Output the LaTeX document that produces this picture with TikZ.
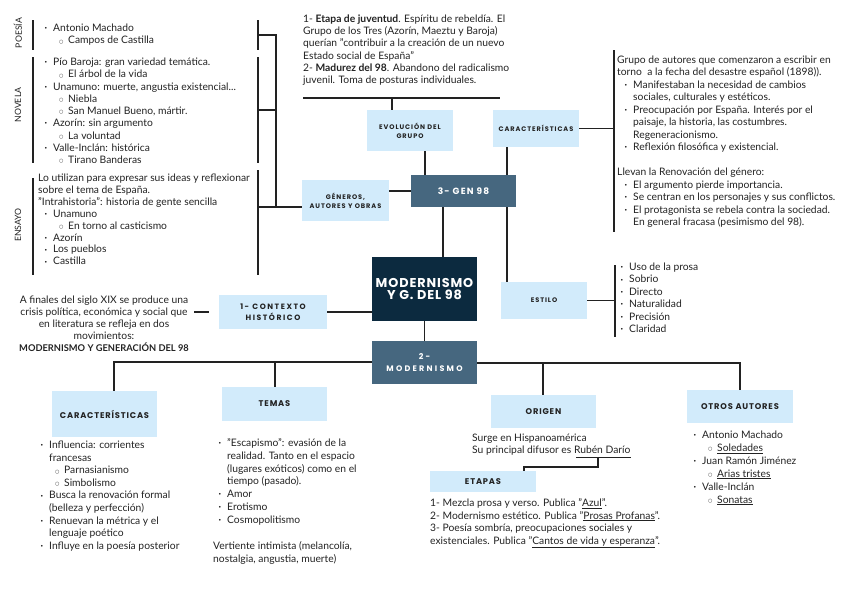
\documentclass[tikz,border=0pt]{standalone}
\usepackage{fontspec}
\setmainfont{Lato}
\newfontfamily\hfont[LetterSpace=14]{Poppins}
\newfontfamily\symfont{DejaVu Sans}
\usetikzlibrary{calc}
\definecolor{lb}{HTML}{D2EBFB}
\definecolor{slate}{HTML}{46677F}
\definecolor{navy}{HTML}{0C2A3F}
\definecolor{ink}{HTML}{222222}
\newcommand\Bu{\makebox[9pt][l]{\fontsize{6}{6}\selectfont\symfont\raisebox{0.8pt}{•}}}
\newcommand\Sb{\makebox[9pt][l]{\fontsize{5}{5}\selectfont\symfont\raisebox{0.6pt}{○}}}
\newcommand\Ind{\hspace*{15pt}}
\newcommand\Hang{\hspace*{9pt}}
\newcommand\Blk[1]{\begin{tabular}[t]{@{}l@{}}#1\end{tabular}}
\newcommand\CBlk[1]{\begin{tabular}[t]{@{}c@{}}#1\end{tabular}}
\tikzset{
  body/.style={inner sep=0pt, anchor=base west, yshift=-3.5pt, text=ink, font=\fontsize{10.3}{#1}\selectfont},
  body/.default=12.3,
  lbox/.style={fill=lb, inner sep=0pt, align=center, text=ink},
  hdrS/.style={font=\hfont\bfseries\fontsize{6.6}{9}\selectfont},
  hdrM/.style={font=\hfont\bfseries\fontsize{8.3}{10}\selectfont\addfontfeatures{LetterSpace=10}},
  conn/.style={draw=ink, line width=1.5pt},
  side/.style={font=\fontsize{8.7}{8.7}\selectfont, text=ink, rotate=90, inner sep=0pt},
}
\begin{document}
\begin{tikzpicture}[x=1pt,y=-1pt]
\useasboundingbox (0,0) rectangle (848,600);

% ---------- boxes ----------
\node[lbox, hdrS, minimum width=86pt, minimum height=41pt] (evo) at (410,130.5) {EVOLUCIÓN DEL\\GRUPO};
\node[lbox, hdrS, minimum width=86pt, minimum height=37pt] (car98) at (536,128.5) {CARACTERÍSTICAS};
\node[lbox, hdrS, minimum width=87pt, minimum height=41pt] (gen) at (345.5,200.5) {GÉNEROS,\\AUTORES Y OBRAS};
\node[fill=slate, text=white, inner sep=0pt, minimum width=105pt, minimum height=32pt,
      font=\hfont\bfseries\fontsize{9}{9}\selectfont\addfontfeatures{LetterSpace=13}] (gen98) at (463.5,191) {3- GEN 98};
\node[fill=navy, text=white, inner sep=0pt, minimum width=105pt, minimum height=64pt, align=center,
      font=\hfont\bfseries\fontsize{12.8}{12.5}\selectfont\addfontfeatures{LetterSpace=7}] (title) at (424.5,289) {MODERNISMO\\Y G. DEL 98};
\node[lbox, hdrS, minimum width=86pt, minimum height=37pt] (estilo) at (544,300.5) {ESTILO};
\node[lbox, font=\hfont\bfseries\fontsize{7.7}{10.5}\selectfont\addfontfeatures{LetterSpace=20}, minimum width=108pt, minimum height=34pt] (ctx) at (273,312) {1- CONTEXTO\\HISTÓRICO};
\node[fill=slate, text=white, inner sep=0pt, minimum width=105pt, minimum height=43pt, align=center,
      font=\hfont\bfseries\fontsize{8}{12}\selectfont\addfontfeatures{LetterSpace=28}] (mod) at (424.5,362.5) {2-\\MODERNISMO};
\node[lbox, hdrM, minimum width=105pt, minimum height=46pt] (carM) at (104.5,414) {CARACTERÍSTICAS};
\node[lbox, hdrM, minimum width=105pt, minimum height=34pt] (temas) at (274.5,404) {TEMAS};
\node[lbox, hdrM, minimum width=105pt, minimum height=33pt] (origen) at (543.5,411.5) {ORIGEN};
\node[lbox, hdrM, minimum width=106pt, minimum height=33pt] (otros) at (740,406.5) {OTROS AUTORES};
\node[lbox, hdrM, minimum width=106pt, minimum height=21pt] (etapas) at (483,481.5) {ETAPAS};

% ---------- side labels ----------
\node[side] (lpoesia) at (18,33) {POESÍA};
\node[side] (lnovela) at (18,105) {NOVELA};
\node[side] (lensayo) at (18,225) {ENSAYO};

% ---------- text blocks ----------
\node[body=12.2] (tpoesia) at (44,28) {\Blk{\Bu Antonio Machado\\ \Ind\Sb Campos de Castilla}};
\node[body=12.25] (tnovela) at (44,62) {\Blk{\Bu Pío Baroja: gran variedad temática.\\
 \Ind\Sb El árbol de la vida\\
 \Bu Unamuno: muerte, angustia existencial...\\
 \Ind\Sb Niebla\\
 \Ind\Sb San Manuel Bueno, mártir.\\
 \Bu Azorín: sin argumento\\
 \Ind\Sb La voluntad\\
 \Bu Valle-Inclán: histórica\\
 \Ind\Sb Tirano Banderas}};
\node[body=11.9] (tensayo) at (38,178) {\Blk{Lo utilizan para expresar sus ideas y reflexionar\\
 sobre el tema de España.\\
 "Intrahistoria": historia de gente sencilla\\
 \hspace*{6pt}\Bu Unamuno\\
 \hspace*{21pt}\Sb En torno al casticismo\\
 \hspace*{6pt}\Bu Azorín\\
 \hspace*{6pt}\Bu Los pueblos\\
 \hspace*{6pt}\Bu Castilla}};
\node[body=12.2] (tevo) at (303,19) {\Blk{1- \textbf{Etapa de juventud}. Espíritu de rebeldía. El\\
 Grupo de los Tres (Azorín, Maeztu y Baroja)\\
 querían "contribuir a la creación de un nuevo\\
 Estado social de España"\\
 2- \textbf{Madurez del 98}. Abandono del radicalismo\\
 juvenil. Toma de posturas individuales.}};
\node[body=12.46] (tcar98) at (617,60) {\Blk{Grupo de autores que comenzaron a escribir en\\
 torno \ a la fecha del desastre español (1898)).\\
 \hspace*{7pt}\Bu Manifestaban la necesidad de cambios\\
 \hspace*{16pt}sociales, culturales y estéticos.\\
 \hspace*{7pt}\Bu Preocupación por España. Interés por el\\
 \hspace*{16pt}paisaje, la historia, las costumbres.\\
 \hspace*{16pt}Regeneracionismo.\\
 \hspace*{7pt}\Bu Reflexión filosófica y existencial.\\
 \\
 Llevan la Renovación del género:\\
 \hspace*{7pt}\Bu El argumento pierde importancia.\\
 \hspace*{7pt}\Bu Se centran en los personajes y sus conflictos.\\
 \hspace*{7pt}\Bu El protagonista se rebela contra la sociedad.\\
 \hspace*{16pt}En general fracasa (pesimismo del 98).}};
\node[body=12.4] (testilo) at (620,267) {\Blk{\Bu Uso de la prosa\\ \Bu Sobrio\\ \Bu Directo\\ \Bu Naturalidad\\ \Bu Precisión\\ \Bu Claridad}};
\node[body=12, anchor=base] (tctx) at (104,300) {\CBlk{A finales del siglo XIX se produce una\\
 crisis política, económica y social que\\
 en literatura se refleja en dos\\
 movimientos:\\
 {\fontsize{9.3}{12}\selectfont\textbf{MODERNISMO Y GENERACIÓN DEL 98}}}};
\node[body=12.6] (tcarM) at (40,445) {\Blk{\Bu Influencia: corrientes\\
 \Hang francesas\\
 \Ind\Sb Parnasianismo\\
 \Ind\Sb Simbolismo\\
 \Bu Busca la renovación formal\\
 \Hang (belleza y perfección)\\
 \Bu Renuevan la métrica y el\\
 \Hang lenguaje poético\\
 \Bu Influye en la poesía posterior}};
\node[body=12.8] (ttemas) at (218,443) {\Blk{\Bu "Escapismo": evasión de la\\
 \Hang realidad. Tanto en el espacio\\
 \Hang (lugares exóticos) como en el\\
 \Hang tiempo (pasado).\\
 \Bu Amor\\
 \Bu Erotismo\\
 \Bu Cosmopolitismo}};
\node[body=12.8] (tvert) at (213,546) {\Blk{Vertiente intimista (melancolía,\\ nostalgia, angustia, muerte)}};
\node[body=12.2] (torigen) at (472,438) {\Blk{Surge en Hispanoamérica\\ Su principal difusor es Rubén Darío}};
\node[body=12.6] (tetapas) at (430,503) {\Blk{1- Mezcla prosa y verso. Publica "\underline{Azul}".\\
 2- Modernismo estético. Publica "\underline{Prosas Profanas}".\\
 3- Poesía sombría, preocupaciones sociales y\\
 existenciales. Publica "\underline{Cantos de vida y esperanza}".}};
\node[body=12.9] (totros) at (693,435) {\Blk{\Bu Antonio Machado\\
 \Ind\Sb \underline{Soledades}\\
 \Bu Juan Ramón Jiménez\\
 \Ind\Sb \underline{Arias tristes}\\
 \Bu Valle-Inclán\\
 \Ind\Sb \underline{Sonatas}}};

% ---------- coordinates ----------
\coordinate (xa) at (425,0);
\coordinate (xb) at (507,0);
\coordinate (xc) at (443,0);
\coordinate (xd) at (392,0);
\coordinate (ya) at (0,191);
\coordinate (evoL) at (303,98);
\coordinate (evoR) at (500,98);
\coordinate (brC1) at (614,50);
\coordinate (brC2) at (614,232);
\coordinate (brE1) at (615,265);
\coordinate (brE2) at (615,337);
\coordinate (ctxT) at (194,312);
\coordinate (modL) at (114,362);
\coordinate (xt) at (275,0);
\coordinate (modR) at (740,363);
\coordinate (xo) at (543,0);
\coordinate (rd1) at (576,457);
\coordinate (rd2) at (631,457);
\coordinate (rd3) at (598,457);
\coordinate (rd4) at (598,467);
\coordinate (rd5) at (524,467);
% left brackets
\coordinate (pL1) at (33,20);  \coordinate (pL2) at (33,50);
\coordinate (nL1) at (33,57);  \coordinate (nL2) at (33,163);
\coordinate (eL1) at (33,178); \coordinate (eL2) at (33,275);
\coordinate (pR1) at (258,20); \coordinate (pR2) at (258,50);
\coordinate (nR1) at (258,57); \coordinate (nR2) at (258,163);
\coordinate (eR1) at (258,170); \coordinate (eR2) at (258,275);
\coordinate (sp1) at (276,35); \coordinate (sp2) at (276,110); \coordinate (sp3) at (276,207);

% ---------- connectors ----------
\draw[conn] (pL1) -- (pL2);
\draw[conn] (nL1) -- (nL2);
\draw[conn] (eL1) -- (eL2);
\draw[conn] (pR1) -- (pR2);
\draw[conn] (nR1) -- (nR2);
\draw[conn] (eR1) -- (eR2);
\draw[conn] (pR1 |- sp1) -- (sp1) -- (sp3);
\draw[conn] (nR1 |- sp2) -- (sp2);
\draw[conn] (eR1 |- sp3) -- (gen.west |- sp3);

\draw[conn] (evoL) -- (evoR);
\draw[conn] (evo.north -| xd) -- (evoL -| xd);
\draw[conn] (evo.south -| xa) -- (gen98.north -| xa);
\draw[conn] (car98.south -| xb) -- (gen98.north -| xb);
\draw[conn] (gen98.south -| xb) -- (estilo.north -| xb);
\draw[conn] (gen98.south -| xc) -- (title.north -| xc);
\draw[conn] (gen.east |- ya) -- (gen98.west |- ya);
\draw[conn] (car98.east) -- (car98.east -| brC1);
\draw[conn] (brC1) -- (brC2);
\draw[conn] (estilo.east) -- (estilo.east -| brE1);
\draw[conn] (brE1) -- (brE2);

\draw[conn] (ctx.east) -- (title.west |- ctx.east);
\draw[conn] (ctxT) -- ($(ctx.west)+(-10,0)$);
\draw[conn] (title.south) -- (mod.north);
\draw[conn] (mod.west |- modL) -- (modL) -- (carM.north -| modL);
\draw[conn] (modL -| xt) -- (temas.north -| xt);
\draw[conn] (mod.east |- modR) -- (modR) -- (otros.north -| modR);
\draw[conn] (modR -| xo) -- (origen.north -| xo);
\draw[draw=ink, line width=1pt] (rd1) -- (rd2);
\draw[conn] (rd3) -- (rd4) -- (rd5) -- (etapas.north -| rd5);
\end{tikzpicture}
\end{document}
